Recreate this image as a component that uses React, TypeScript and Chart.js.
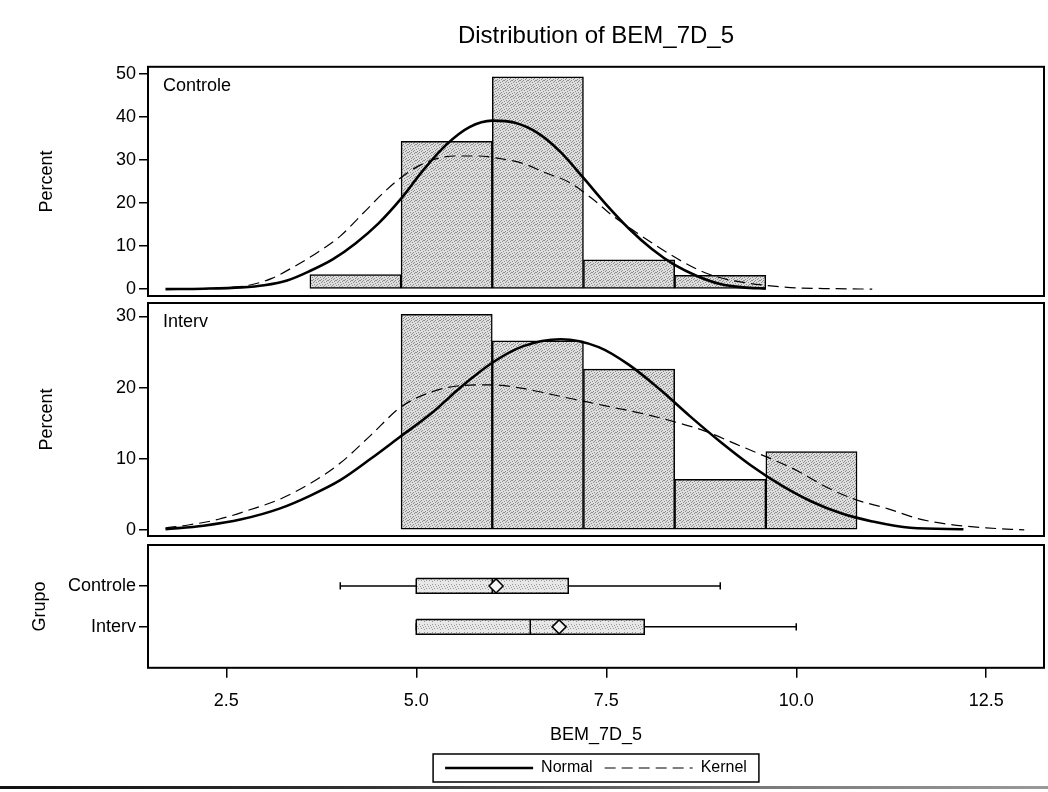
import React, { useEffect, useRef } from 'react';
import { Chart, registerables } from 'chart.js';

Chart.register(...registerables);

const FONT = "'Liberation Sans', Arial, Helvetica, sans-serif";
Chart.defaults.font.family = FONT;
Chart.defaults.color = '#000';

// ---------- text ----------
const chartTitle = 'Distribution of BEM_7D_5';
const xAxisTitle = 'BEM_7D_5';
const percentTitle = 'Percent';
const groupTitle = 'Grupo';
const groups = ['Controle', 'Interv'];
const curveNames = ['Normal', 'Kernel'];

// ---------- shared x axis ----------
const xRange = [1.47, 13.26];
const xTickValues = [2.5, 5.0, 7.5, 10.0, 12.5];
const xTickLabels = ['2.5', '5.0', '7.5', '10.0', '12.5'];

// ---------- histogram: Controle ----------
const controleBinMids = [4.2, 5.4, 6.6, 7.8, 9.0];
const controlePercent = [3.4, 34.3, 49.3, 6.8, 3.2];
const controleYTicks = [0, 10, 20, 30, 40, 50];
const controleYRange = [-1.6, 51.6];

const controleNormalX = [1.7, 2.2, 2.7, 3.0, 3.3, 3.6, 3.9, 4.2, 4.5, 4.8, 5.1, 5.4, 5.7, 6.0, 6.3, 6.6, 6.9, 7.2, 7.5, 7.8, 8.1, 8.4, 8.7, 9.0, 9.3, 9.6];
const controleNormalY = [0.0, 0.1, 0.4, 0.9, 2.0, 4.2, 6.9, 10.6, 15.2, 21.0, 27.8, 33.6, 37.6, 39.1, 38.6, 36.2, 31.8, 25.8, 19.6, 14.0, 9.3, 5.6, 3.0, 1.2, 0.4, 0.1];

const controleKernelX = [1.9, 2.4, 2.8, 3.1, 3.4, 3.7, 4.0, 4.3, 4.6, 4.9, 5.2, 5.5, 5.8, 6.1, 6.4, 6.7, 7.0, 7.3, 7.6, 7.9, 8.2, 8.5, 8.8, 9.1, 9.4, 9.7, 10.0, 10.5, 11.0];
const controleKernelY = [0.0, 0.2, 0.9, 2.5, 5.3, 8.5, 12.3, 17.6, 22.9, 27.2, 29.9, 30.9, 30.9, 30.3, 29.2, 27.0, 24.9, 21.2, 16.8, 13.1, 9.6, 6.4, 3.8, 2.2, 1.3, 0.7, 0.3, 0.1, 0.0];

// ---------- histogram: Interv ----------
const intervBinMids = [5.4, 6.6, 7.8, 9.0, 10.2];
const intervPercent = [30.3, 26.6, 22.6, 7.1, 11.0];
const intervYTicks = [0, 10, 20, 30];
const intervYRange = [-0.85, 31.9];

const intervNormalX = [1.7, 2.2, 2.7, 3.2, 3.6, 4.0, 4.4, 4.8, 5.2, 5.6, 6.0, 6.4, 6.9, 7.4, 7.8, 8.2, 8.6, 9.0, 9.4, 9.8, 10.2, 10.6, 11.0, 11.5, 12.2];
const intervNormalY = [0.1, 0.6, 1.5, 3.0, 4.8, 7.0, 10.0, 13.2, 16.4, 20.2, 23.5, 25.8, 26.8, 25.7, 23.2, 19.8, 16.0, 12.4, 9.1, 6.3, 4.0, 2.3, 1.2, 0.3, 0.1];

const intervKernelX = [1.7, 2.0, 2.4, 2.8, 3.2, 3.6, 4.0, 4.4, 4.8, 5.2, 5.6, 6.0, 6.4, 6.8, 7.2, 7.6, 8.0, 8.4, 8.8, 9.2, 9.6, 10.0, 10.4, 10.8, 11.2, 11.6, 12.0, 12.5, 13.0];
const intervKernelY = [0.3, 0.7, 1.5, 2.8, 4.3, 6.5, 9.4, 13.3, 17.3, 19.4, 20.3, 20.4, 19.9, 19.0, 18.1, 17.2, 16.3, 15.2, 13.9, 12.1, 10.3, 8.4, 6.0, 4.2, 3.0, 1.6, 0.8, 0.3, 0.0];

// ---------- box plot ----------
const boxMin = [4.0, 5.0];
const boxQ1 = [5.0, 5.0];
const boxMedian = [6.0, 6.5];
const boxQ3 = [7.0, 8.0];
const boxMax = [9.0, 10.0];
const boxMean = [6.05, 6.88];

// ---------- helpers ----------
const stippleDots = [
  [0, 0], [3, 0], [6, 1], [1, 2], [4, 2], [7, 3], [2, 4], [5, 4],
  [0, 5], [3, 6], [6, 6], [1, 7], [5, 7], [7, 0], [2, 1], [4, 5],
];

function makePattern(ctx: CanvasRenderingContext2D, base: string, dot: string, cells: number[][]) {
  const c = document.createElement('canvas');
  c.width = 8;
  c.height = 8;
  const g = c.getContext('2d');
  if (!g) return base;
  g.fillStyle = base;
  g.fillRect(0, 0, 8, 8);
  g.fillStyle = dot;
  cells.forEach(([x, y]) => g.fillRect(x, y, 1, 1));
  return ctx.createPattern(c, 'repeat') || base;
}

const framePlugin = {
  id: 'frame',
  afterDatasetsDraw(chart: any) {
    const { ctx, chartArea: a } = chart;
    ctx.save();
    ctx.strokeStyle = '#000';
    ctx.lineWidth = 2;
    ctx.setLineDash([]);
    ctx.strokeRect(a.left, a.top, a.right - a.left, a.bottom - a.top);
    ctx.restore();
  },
};

const insetLabelPlugin = {
  id: 'insetLabel',
  afterDraw(chart: any, _args: any, opts: any) {
    if (!opts || !opts.text) return;
    const { ctx, chartArea: a } = chart;
    ctx.save();
    ctx.font = `18px ${FONT}`;
    ctx.fillStyle = '#000';
    ctx.textAlign = 'left';
    ctx.textBaseline = 'middle';
    ctx.fillText(opts.text, a.left + 15, a.top + 19);
    ctx.restore();
  },
};

const legendFramePlugin = {
  id: 'legendFrame',
  afterDraw(chart: any) {
    const lg = chart.legend;
    if (!lg || !lg.legendHitBoxes || !lg.legendHitBoxes.length) return;
    const hb = lg.legendHitBoxes;
    const l = Math.min(...hb.map((h: any) => h.left)) - 12;
    const r = Math.max(...hb.map((h: any) => h.left + h.width)) + 12;
    const t = Math.min(...hb.map((h: any) => h.top)) - 6;
    const b = Math.max(...hb.map((h: any) => h.top + h.height)) + 6;
    const { ctx } = chart;
    ctx.save();
    ctx.strokeStyle = '#000';
    ctx.lineWidth = 1.5;
    ctx.setLineDash([]);
    ctx.strokeRect(l, t, r - l, b - t);
    ctx.restore();
  },
};

const yAxisWidth = 148;

function yAxis(ticks: number[], range: number[], titleText: string, titlePad: number, labels?: string[], reverse?: boolean) {
  return {
    type: 'linear',
    min: range[0],
    max: range[1],
    reverse: !!reverse,
    afterBuildTicks: (ax: any) => {
      ax.ticks = ticks.map((v) => ({ value: v }));
    },
    afterFit: (ax: any) => {
      ax.width = yAxisWidth;
    },
    ticks: {
      color: '#000',
      font: { family: FONT, size: 18 },
      padding: 3,
      autoSkip: false,
      callback: (v: any, i: number) => (labels ? labels[i] : String(v)),
    },
    grid: {
      display: true,
      drawOnChartArea: false,
      drawTicks: true,
      tickLength: 9,
      color: '#000',
      tickColor: '#000',
      lineWidth: 1.5,
    },
    border: { display: false },
    title: {
      display: true,
      text: titleText,
      color: '#000',
      font: { family: FONT, size: 18 },
      padding: { top: titlePad, bottom: 0 },
    },
  };
}

function hiddenX() {
  return {
    type: 'linear',
    min: xRange[0],
    max: xRange[1],
    offset: false,
    display: false,
    afterBuildTicks: (ax: any) => {
      ax.ticks = xTickValues.map((v) => ({ value: v }));
    },
  };
}

function pts(xs: number[], ys: number[]) {
  return xs.map((x, i) => ({ x, y: ys[i] }));
}

function makeHist(canvas: HTMLCanvasElement, cfg: any) {
  const ctx = canvas.getContext('2d') as CanvasRenderingContext2D;
  const pattern = makePattern(ctx, '#dedede', '#8c8c8c', stippleDots);
  return new Chart(canvas, {
    type: 'bar',
    data: {
      datasets: [
        {
          type: 'bar',
          label: cfg.group,
          data: pts(cfg.mids, cfg.pcts),
          backgroundColor: pattern,
          borderColor: '#000',
          borderWidth: 1.5,
          borderSkipped: false,
          barPercentage: 1,
          categoryPercentage: 1,
          order: 3,
        },
        {
          type: 'line',
          label: curveNames[0],
          data: pts(cfg.normalX, cfg.normalY),
          borderColor: '#000',
          borderWidth: 2.6,
          pointRadius: 0,
          cubicInterpolationMode: 'monotone',
          fill: false,
          order: 1,
        },
        {
          type: 'line',
          label: curveNames[1],
          data: pts(cfg.kernelX, cfg.kernelY),
          borderColor: '#000',
          borderWidth: 1.2,
          borderDash: [11, 6],
          pointRadius: 0,
          cubicInterpolationMode: 'monotone',
          fill: false,
          order: 2,
        },
      ],
    },
    options: {
      animation: false,
      responsive: false,
      maintainAspectRatio: false,
      events: [],
      layout: { padding: cfg.padding, autoPadding: false },
      plugins: {
        legend: { display: false },
        tooltip: { enabled: false },
        title: cfg.showTitle
          ? {
              display: true,
              text: chartTitle,
              fullSize: false,
              color: '#000',
              font: { family: FONT, size: 24, weight: 'normal' },
              padding: { top: 22, bottom: 16 },
            }
          : { display: false },
        insetLabel: { text: cfg.group },
      },
      scales: {
        x: hiddenX(),
        y: yAxis(cfg.yTicks, cfg.yRange, percentTitle, 36),
      },
    } as any,
    plugins: [framePlugin, insetLabelPlugin],
  } as any);
}

function makeBox(canvas: HTMLCanvasElement) {
  const ctx = canvas.getContext('2d') as CanvasRenderingContext2D;
  const pattern = makePattern(ctx, '#e8e8e8', '#9a9a9a', stippleDots.slice(0, 9));
  const half = 0.18;
  const cap = 0.09;
  const line = (data: any[], extra: any = {}) => ({
    type: 'line',
    data,
    borderColor: '#000',
    borderWidth: 1.5,
    pointRadius: 0,
    tension: 0,
    fill: false,
    ...extra,
  });
  const datasets: any[] = [];
  groups.forEach((g, i) => {
    const y = i + 1;
    datasets.push(
      line(
        [
          { x: boxQ1[i], y: y - half },
          { x: boxQ3[i], y: y - half },
          { x: boxQ3[i], y: y + half },
          { x: boxQ1[i], y: y + half },
          { x: boxQ1[i], y: y - half },
        ],
        { label: g, backgroundColor: pattern, fill: 'shape', order: 4 }
      )
    );
    datasets.push(line([{ x: boxMedian[i], y: y - half }, { x: boxMedian[i], y: y + half }], { order: 3 }));
    datasets.push(line([{ x: boxMin[i], y }, { x: boxQ1[i], y }], { order: 3 }));
    datasets.push(line([{ x: boxQ3[i], y }, { x: boxMax[i], y }], { order: 3 }));
    datasets.push(line([{ x: boxMin[i], y: y - cap }, { x: boxMin[i], y: y + cap }], { order: 3 }));
    datasets.push(line([{ x: boxMax[i], y: y - cap }, { x: boxMax[i], y: y + cap }], { order: 3 }));
    datasets.push({
      type: 'line',
      data: [{ x: boxMean[i], y }],
      showLine: false,
      pointStyle: 'rectRot',
      pointRadius: 7,
      pointBackgroundColor: '#f4f4f4',
      pointBorderColor: '#000',
      pointBorderWidth: 1.5,
      order: 1,
    });
  });

  return new Chart(canvas, {
    type: 'line',
    data: { datasets },
    options: {
      animation: false,
      responsive: false,
      maintainAspectRatio: false,
      events: [],
      layout: { padding: { top: 25, left: 0, right: 4, bottom: 6 }, autoPadding: false },
      plugins: {
        tooltip: { enabled: false },
        title: { display: false },
        legend: {
          display: true,
          position: 'bottom',
          fullSize: false,
          labels: {
            usePointStyle: true,
            pointStyleWidth: 88,
            color: '#000',
            font: { family: FONT, size: 16 },
            padding: 12,
            generateLabels: () => [
              {
                text: curveNames[0],
                fillStyle: 'rgba(0,0,0,0)',
                strokeStyle: '#000',
                lineWidth: 2.6,
                lineDash: [],
                pointStyle: 'line',
                hidden: false,
                fontColor: '#000',
              },
              {
                text: curveNames[1],
                fillStyle: 'rgba(0,0,0,0)',
                strokeStyle: '#000',
                lineWidth: 1.2,
                lineDash: [11, 6],
                pointStyle: 'line',
                hidden: false,
                fontColor: '#000',
              },
            ],
          },
        },
      },
      scales: {
        x: {
          type: 'linear',
          min: xRange[0],
          max: xRange[1],
          offset: false,
          afterBuildTicks: (ax: any) => {
            ax.ticks = xTickValues.map((v) => ({ value: v }));
          },
          ticks: {
            color: '#000',
            font: { family: FONT, size: 18 },
            padding: 12,
            maxRotation: 0,
            autoSkip: false,
            callback: (_v: any, i: number) => xTickLabels[i],
          },
          grid: {
            display: true,
            drawOnChartArea: false,
            drawTicks: true,
            tickLength: 10,
            color: '#000',
            tickColor: '#000',
            lineWidth: 1.5,
          },
          border: { display: false },
          title: {
            display: true,
            text: xAxisTitle,
            color: '#000',
            font: { family: FONT, size: 18 },
            padding: { top: 1, bottom: 2 },
          },
        },
        y: yAxis([1, 2], [0, 3], groupTitle, 29, groups, true),
      },
    } as any,
    plugins: [framePlugin, legendFramePlugin],
  } as any);
}

export default function App() {
  const topRef = useRef<HTMLCanvasElement>(null);
  const midRef = useRef<HTMLCanvasElement>(null);
  const botRef = useRef<HTMLCanvasElement>(null);

  useEffect(() => {
    const charts: Chart[] = [];
    if (topRef.current) {
      charts.push(
        makeHist(topRef.current, {
          group: groups[0],
          mids: controleBinMids,
          pcts: controlePercent,
          yTicks: controleYTicks,
          yRange: controleYRange,
          normalX: controleNormalX,
          normalY: controleNormalY,
          kernelX: controleKernelX,
          kernelY: controleKernelY,
          showTitle: true,
          padding: { top: 0, left: 0, right: 4, bottom: 24 },
        })
      );
    }
    if (midRef.current) {
      charts.push(
        makeHist(midRef.current, {
          group: groups[1],
          mids: intervBinMids,
          pcts: intervPercent,
          yTicks: intervYTicks,
          yRange: intervYRange,
          normalX: intervNormalX,
          normalY: intervNormalY,
          kernelX: intervKernelX,
          kernelY: intervKernelY,
          showTitle: false,
          padding: { top: 23, left: 0, right: 4, bottom: 24 },
        })
      );
    }
    if (botRef.current) charts.push(makeBox(botRef.current));
    return () => charts.forEach((c) => c.destroy());
  }, []);

  const cv = (top: number, height: number): React.CSSProperties => ({
    position: 'absolute',
    left: 0,
    top,
    width: 1048,
    height,
    display: 'block',
  });

  return (
    <div
      style={{
        position: 'fixed',
        left: 0,
        top: 0,
        width: 1048,
        height: 792,
        background: '#fff',
        overflow: 'hidden',
      }}
    >
      <canvas ref={topRef} width={1048} height={320} style={cv(0, 320)} />
      <canvas ref={midRef} width={1048} height={280} style={cv(280, 280)} />
      <canvas ref={botRef} width={1048} height={272} style={cv(520, 272)} />
      <div
        style={{
          position: 'absolute',
          left: 0,
          top: 786,
          width: 1048,
          height: 3,
          background: 'linear-gradient(to right, #111 0%, #333 35%, #777 70%, #999 100%)',
        }}
      />
    </div>
  );
}
